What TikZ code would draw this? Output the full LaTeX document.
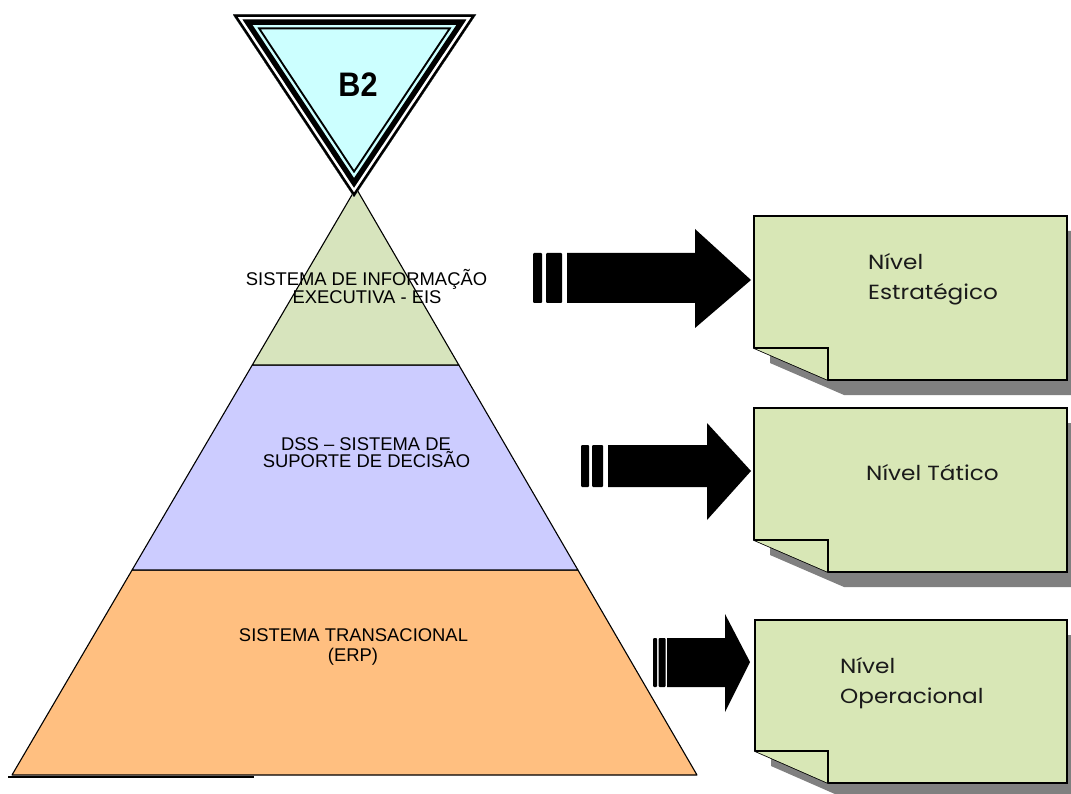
\documentclass[tikz,border=0pt]{standalone}
\usepackage{fontspec}
\setmainfont{Liberation Sans}
\newfontfamily\notefont{Poppins}
\definecolor{lgreen}{HTML}{D7E4BD}
\definecolor{lblue}{HTML}{CCCCFF}
\definecolor{lorange}{HTML}{FFBF80}
\definecolor{lcyan}{HTML}{CCFFFF}
\definecolor{notegreen}{HTML}{D8E7B6}
\definecolor{shadowgray}{HTML}{808080}
\definecolor{notetext}{HTML}{1A1A1A}
\tikzset{
  layer/.style={draw=black, line width=1.1pt, line join=round},
  pyrtext/.style={anchor=base, inner sep=0pt, font=\fontsize{18.4}{18}\selectfont},
  notetxt/.style={anchor=base west, inner sep=0pt, text=notetext, xscale=1.13, font=\notefont\fontsize{20.5}{20}\selectfont},
  blockarrow/.style={fill=black},
  notebox/.style={fill=notegreen, draw=black, line width=1.6pt, line join=miter},
  noteshadow/.style={fill=shadowgray},
}
\newcommand{\notepaper}[4]{% x1,y1,x2,y2 ; fold at (828, y2-32)
  \fill[noteshadow,shift={(16,15)}] (#1,#2) -- (#3,#2) -- (#3,#4) -- (828,#4) -- (#1,#4-32) -- cycle;
  \draw[notebox] (#1,#2) -- (#3,#2) -- (#3,#4) -- (828,#4) -- (#1,#4-32) -- cycle;
  \draw[notebox] (#1,#4-32) -- (828,#4-32) -- (828,#4);
}
\begin{document}
\begin{tikzpicture}[x=1pt,y=-1pt]
\useasboundingbox (0,0) rectangle (1071,794);
\fill[white] (0,0) rectangle (1071,794);

% pyramid
\coordinate (apex) at (356,188);
\coordinate (l1) at (252.3,365); \coordinate (r1) at (458.8,365);
\coordinate (l2) at (132.1,570); \coordinate (r2) at (577.9,570);
\coordinate (l3) at (12,775);    \coordinate (r3) at (697,775);
\draw[black, line width=2pt] (8,776.5) -- (254,776.5);
\draw[layer, fill=lorange] (l2) -- (r2) -- (r3) -- (l3) -- cycle;
\draw[layer, fill=lblue] (l1) -- (r1) -- (r2) -- (l2) -- cycle;
\draw[layer, fill=lgreen] (apex) -- (r1) -- (l1) -- cycle;

\node[pyrtext] (eis1) at (366.5,285.5) {SISTEMA DE INFORMAÇÃO};
\node[pyrtext] (eis2) at (367,303.5) {EXECUTIVA - EIS};
\node[pyrtext] (dss1) at (366,450) {DSS – SISTEMA DE};
\node[pyrtext] (dss2) at (366.5,467.7) {SUPORTE DE DECISÃO};
\node[pyrtext] (erp1) at (353.5,641.7) {SISTEMA TRANSACIONAL};
\node[pyrtext] (erp2) at (353,661) {(ERP)};

% inverted triangle B2
\coordinate (t1) at (233,14.5);
\coordinate (t2) at (476,14.5);
\coordinate (t3) at (354,197);
\begin{scope}
  \clip (t1) -- (t2) -- (t3) -- cycle;
  \fill[lcyan] (t1) -- (t2) -- (t3) -- cycle;
  \draw[black, line width=30pt, line join=miter] (t1) -- (t2) -- (t3) -- cycle;
  \draw[lcyan, line width=26pt, line join=miter] (t1) -- (t2) -- (t3) -- cycle;
  \draw[black, line width=21pt, line join=miter] (t1) -- (t2) -- (t3) -- cycle;
  \draw[white, line width=10pt, line join=miter] (t1) -- (t2) -- (t3) -- cycle;
  \draw[black, line width=5pt, line join=miter] (t1) -- (t2) -- (t3) -- cycle;
\end{scope}
\node[anchor=base, inner sep=0pt, font=\bfseries\fontsize{34}{34}\selectfont, xscale=0.9] (b2) at (358,97) {B2};

% block arrows
\fill[blockarrow, rounded corners=1pt] (533,253) rectangle (542,303);
\fill[blockarrow, rounded corners=1pt] (546,253) rectangle (562,303);
\fill[blockarrow] (567,253) -- (695,253) -- (695,229) -- (751,280) -- (695,328) -- (695,303) -- (567,303) -- cycle;

\fill[blockarrow, rounded corners=1pt] (581,445) rectangle (589,487);
\fill[blockarrow, rounded corners=1pt] (592,445) rectangle (603,487);
\fill[blockarrow] (608,445) -- (707,445) -- (707,423) -- (751,471) -- (707,520) -- (707,487) -- (608,487) -- cycle;

\fill[blockarrow, rounded corners=1pt] (653,638) rectangle (657,687);
\fill[blockarrow, rounded corners=1pt] (658.5,638) rectangle (665.5,687);
\fill[blockarrow] (667,638) -- (725,638) -- (725,614) -- (750,662) -- (725,712) -- (725,687) -- (667,687) -- cycle;

% notes
\notepaper{754}{216}{1067}{380}
\notepaper{754}{408}{1067}{572}
\notepaper{755}{620}{1067}{783}

\node[notetxt] (n1a) at (868,270) {Nível};
\node[notetxt] (n1b) at (868,300) {Estratégico};
\node[notetxt] (n2) at (866,480) {Nível Tático};
\node[notetxt] (n3a) at (840,673) {Nível};
\node[notetxt] (n3b) at (840,703) {Operacional};
\end{tikzpicture}
\end{document}
